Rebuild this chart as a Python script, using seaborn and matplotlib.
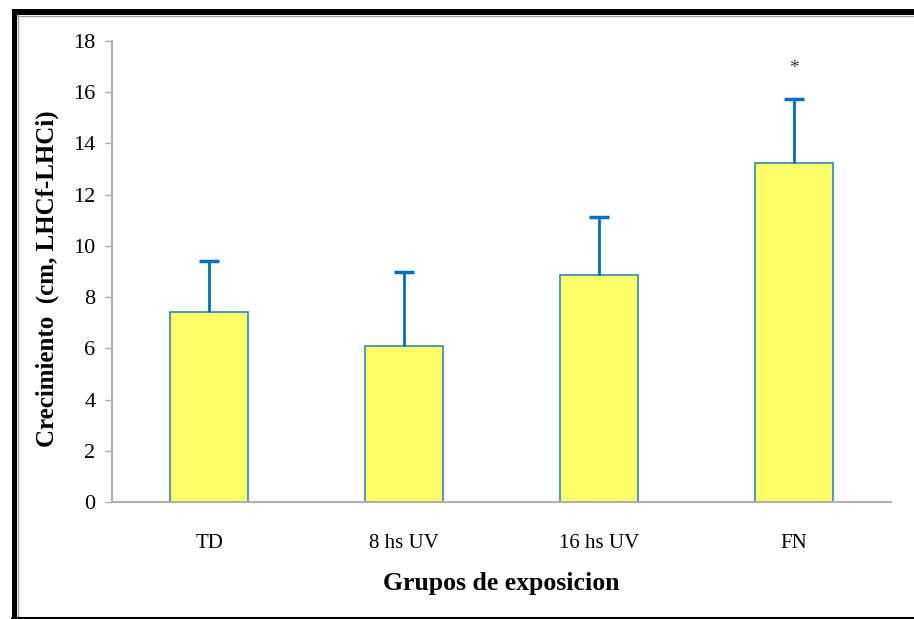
import matplotlib
matplotlib.use("Agg")
import matplotlib.pyplot as plt
from matplotlib.patches import Rectangle
from matplotlib.lines import Line2D
import seaborn as sns
import pandas as pd

# Group means and upper error (SD) for growth
grupos = ["TD", "8 hs UV", "16 hs UV", "FN"]
crecimiento = [7.42, 6.10, 8.87, 13.23]
error_sup = [2.00, 2.88, 2.25, 2.50]
signif = ["", "", "", "*"]

df = pd.DataFrame({"grupo": grupos, "crecimiento": crecimiento})

sns.set_theme(style="white")
plt.rcParams["font.family"] = ["Liberation Serif", "DejaVu Serif"]

fig = plt.figure(figsize=(9.14, 6.19), dpi=100)
ax = fig.add_axes([0.1225, 0.189, 0.8525, 0.745])

blue = "#0070C0"
sns.barplot(data=df, x="grupo", y="crecimiento", ax=ax, color="#FFFF66",
            width=0.4, edgecolor="#2E86C8", linewidth=1.2, errorbar=None,
            saturation=1)

xs = range(len(grupos))
_, caps, _ = ax.errorbar(xs, crecimiento, yerr=[[0] * len(error_sup), error_sup],
                         fmt="none", ecolor=blue, elinewidth=2, capsize=7,
                         capthick=2.5)
# only the upper cap is shown
caps[0].set_visible(False)

for x, y, e, s in zip(xs, crecimiento, error_sup, signif):
    if s:
        ax.text(x, y + e + 0.84, s, ha="center", va="bottom", fontsize=14,
                color="#333333")

ax.set_ylim(0, 18)
ax.set_yticks(range(0, 19, 2))
ax.set_xlim(-0.5, 3.5)

for side in ["top", "right"]:
    ax.spines[side].set_visible(False)
for side in ["left", "bottom"]:
    ax.spines[side].set_color("#B0B0B0")
    ax.spines[side].set_linewidth(1.5)

ax.tick_params(axis="y", which="major", left=True, length=5, width=1,
               color="#B0B0B0", labelsize=16, pad=7, labelcolor="black")
ax.tick_params(axis="x", bottom=False, labelsize=15, pad=17, labelcolor="black")

ax.set_xlabel("Grupos de exposicion", fontsize=18.5, fontweight="bold",
              labelpad=14, color="black")
ax.set_ylabel("Crecimiento  (cm, LHCf-LHCi)", fontsize=18, fontweight="bold",
              color="black")
ax.yaxis.set_label_coords(-0.068, 0.485)

# Outer frame
W, H = 914, 619
def fx(px):
    return px / W
def fy(py):
    return 1 - py / H

fig.add_artist(Rectangle((fx(12), fy(619)), fx(5) - fx(0), fy(10) - fy(619),
                         transform=fig.transFigure, color="black", lw=0))
fig.add_artist(Rectangle((fx(12), fy(14.5)), 1, fy(9) - fy(14.5),
                         transform=fig.transFigure, color="black", lw=0))
fig.add_artist(Line2D([fx(17.5), fx(17.5)], [fy(15), fy(617)],
                      transform=fig.transFigure, color="#A0A0A0", lw=1))
fig.add_artist(Line2D([fx(17), 1], [fy(15.5), fy(15.5)],
                      transform=fig.transFigure, color="#A0A0A0", lw=1))
fig.add_artist(Line2D([fx(12), 1], [fy(617.5), fy(617.5)],
                      transform=fig.transFigure, color="black", lw=1.5))

fig.savefig("out.png", dpi=100)
